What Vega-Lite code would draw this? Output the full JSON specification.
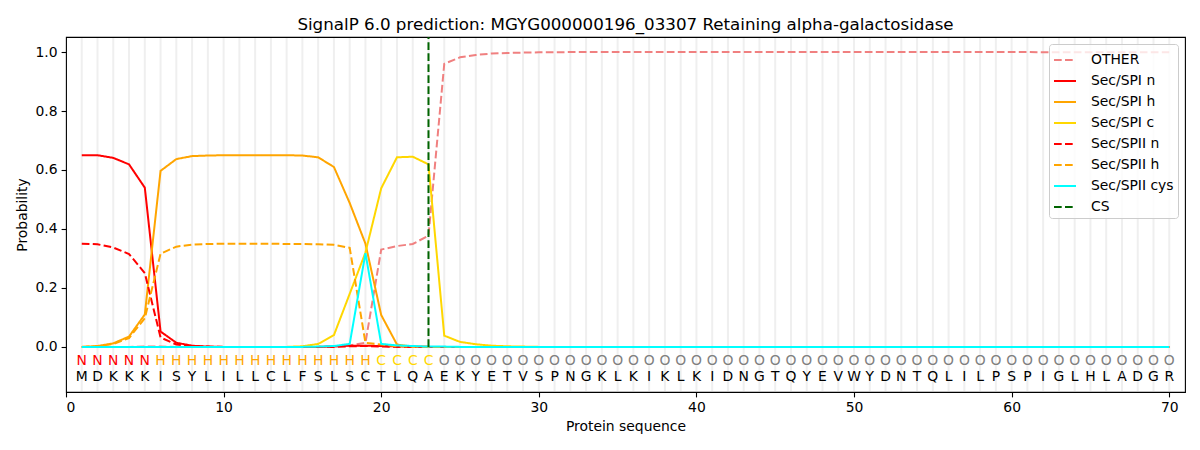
{
  "$schema": "https://vega.github.io/schema/vega-lite/v6.json",
  "description": "SignalP 6.0 per-residue probabilities",
  "autosize": {"type": "none"},
  "width": 1119,
  "height": 355,
  "padding": {"left": 66, "top": 37, "right": 15, "bottom": 58},
  "title": {
    "text": "SignalP 6.0 prediction: MGYG000000196_03307 Retaining alpha-galactosidase",
    "fontSize": 16.7,
    "fontWeight": "normal",
    "color": "black",
    "offset": 3
  },
  "config": {
    "font": "DejaVu Sans",
    "view": {"stroke": "black", "strokeWidth": 1.1},
    "axis": {
      "domain": false,
      "grid": false,
      "tickColor": "black",
      "tickSize": 4.9,
      "tickWidth": 1.1,
      "labelFontSize": 13.9,
      "labelColor": "black",
      "labelPadding": 4,
      "titleFontSize": 13.9,
      "titleFontWeight": "normal",
      "titleColor": "black"
    },
    "legend": {
      "orient": "top-right",
      "offset": 7,
      "fillColor": "rgba(255,255,255,0.8)",
      "strokeColor": "#cccccc",
      "cornerRadius": 3,
      "padding": 4,
      "labelFontSize": 13.9,
      "labelColor": "black",
      "labelOffset": 14,
      "symbolType": "stroke",
      "symbolStrokeWidth": 2,
      "symbolSize": 484,
      "rowPadding": 2
    }
  },
  "datasets": {
    "seq": [
      {"pos":1,"aa":"M","lab":"N","OTHER":0,"Sec/SPI n":0.65,"Sec/SPI h":0,"Sec/SPI c":0,"Sec/SPII n":0.35,"Sec/SPII h":0,"Sec/SPII cys":0},
      {"pos":2,"aa":"D","lab":"N","OTHER":0,"Sec/SPI n":0.65,"Sec/SPI h":0.003,"Sec/SPI c":0,"Sec/SPII n":0.348,"Sec/SPII h":0.002,"Sec/SPII cys":0},
      {"pos":3,"aa":"K","lab":"N","OTHER":0,"Sec/SPI n":0.641,"Sec/SPI h":0.012,"Sec/SPI c":0,"Sec/SPII n":0.337,"Sec/SPII h":0.01,"Sec/SPII cys":0},
      {"pos":4,"aa":"K","lab":"N","OTHER":0,"Sec/SPI n":0.619,"Sec/SPI h":0.035,"Sec/SPI c":0,"Sec/SPII n":0.315,"Sec/SPII h":0.03,"Sec/SPII cys":0},
      {"pos":5,"aa":"K","lab":"N","OTHER":0.001,"Sec/SPI n":0.54,"Sec/SPI h":0.11,"Sec/SPI c":0,"Sec/SPII n":0.25,"Sec/SPII h":0.097,"Sec/SPII cys":0},
      {"pos":6,"aa":"I","lab":"H","OTHER":0.001,"Sec/SPI n":0.052,"Sec/SPI h":0.597,"Sec/SPI c":0,"Sec/SPII n":0.032,"Sec/SPII h":0.316,"Sec/SPII cys":0},
      {"pos":7,"aa":"S","lab":"H","OTHER":0,"Sec/SPI n":0.014,"Sec/SPI h":0.637,"Sec/SPI c":0,"Sec/SPII n":0.008,"Sec/SPII h":0.34,"Sec/SPII cys":0},
      {"pos":8,"aa":"Y","lab":"H","OTHER":0,"Sec/SPI n":0.004,"Sec/SPI h":0.647,"Sec/SPI c":0,"Sec/SPII n":0.002,"Sec/SPII h":0.347,"Sec/SPII cys":0},
      {"pos":9,"aa":"L","lab":"H","OTHER":0,"Sec/SPI n":0.001,"Sec/SPI h":0.649,"Sec/SPI c":0,"Sec/SPII n":0.001,"Sec/SPII h":0.349,"Sec/SPII cys":0},
      {"pos":10,"aa":"I","lab":"H","OTHER":0,"Sec/SPI n":0,"Sec/SPI h":0.65,"Sec/SPI c":0,"Sec/SPII n":0,"Sec/SPII h":0.35,"Sec/SPII cys":0},
      {"pos":11,"aa":"L","lab":"H","OTHER":0,"Sec/SPI n":0,"Sec/SPI h":0.65,"Sec/SPI c":0,"Sec/SPII n":0,"Sec/SPII h":0.35,"Sec/SPII cys":0},
      {"pos":12,"aa":"L","lab":"H","OTHER":0,"Sec/SPI n":0,"Sec/SPI h":0.65,"Sec/SPI c":0,"Sec/SPII n":0,"Sec/SPII h":0.35,"Sec/SPII cys":0},
      {"pos":13,"aa":"C","lab":"H","OTHER":0,"Sec/SPI n":0,"Sec/SPI h":0.65,"Sec/SPI c":0,"Sec/SPII n":0,"Sec/SPII h":0.35,"Sec/SPII cys":0},
      {"pos":14,"aa":"L","lab":"H","OTHER":0,"Sec/SPI n":0,"Sec/SPI h":0.65,"Sec/SPI c":0,"Sec/SPII n":0,"Sec/SPII h":0.349,"Sec/SPII cys":0},
      {"pos":15,"aa":"F","lab":"H","OTHER":0,"Sec/SPI n":0,"Sec/SPI h":0.649,"Sec/SPI c":0.002,"Sec/SPII n":0,"Sec/SPII h":0.349,"Sec/SPII cys":0},
      {"pos":16,"aa":"S","lab":"H","OTHER":0,"Sec/SPI n":0,"Sec/SPI h":0.643,"Sec/SPI c":0.01,"Sec/SPII n":0,"Sec/SPII h":0.348,"Sec/SPII cys":0.001},
      {"pos":17,"aa":"L","lab":"H","OTHER":0.001,"Sec/SPI n":0.002,"Sec/SPI h":0.61,"Sec/SPI c":0.04,"Sec/SPII n":0,"Sec/SPII h":0.346,"Sec/SPII cys":0.003},
      {"pos":18,"aa":"S","lab":"H","OTHER":0.005,"Sec/SPI n":0.004,"Sec/SPI h":0.488,"Sec/SPI c":0.18,"Sec/SPII n":0.002,"Sec/SPII h":0.336,"Sec/SPII cys":0.01},
      {"pos":19,"aa":"C","lab":"H","OTHER":0.014,"Sec/SPI n":0.004,"Sec/SPI h":0.35,"Sec/SPI c":0.32,"Sec/SPII n":0.003,"Sec/SPII h":0.014,"Sec/SPII cys":0.318},
      {"pos":20,"aa":"T","lab":"C","OTHER":0.33,"Sec/SPI n":0.003,"Sec/SPI h":0.108,"Sec/SPI c":0.538,"Sec/SPII n":0.001,"Sec/SPII h":0.008,"Sec/SPII cys":0.01},
      {"pos":21,"aa":"L","lab":"C","OTHER":0.342,"Sec/SPI n":0.002,"Sec/SPI h":0.008,"Sec/SPI c":0.643,"Sec/SPII n":0,"Sec/SPII h":0.002,"Sec/SPII cys":0.005},
      {"pos":22,"aa":"Q","lab":"C","OTHER":0.349,"Sec/SPI n":0.001,"Sec/SPI h":0.001,"Sec/SPI c":0.645,"Sec/SPII n":0,"Sec/SPII h":0.001,"Sec/SPII cys":0.003},
      {"pos":23,"aa":"A","lab":"C","OTHER":0.377,"Sec/SPI n":0,"Sec/SPI h":0,"Sec/SPI c":0.619,"Sec/SPII n":0,"Sec/SPII h":0,"Sec/SPII cys":0.001},
      {"pos":24,"aa":"E","lab":"O","OTHER":0.96,"Sec/SPI n":0,"Sec/SPI h":0,"Sec/SPI c":0.038,"Sec/SPII n":0,"Sec/SPII h":0,"Sec/SPII cys":0.001},
      {"pos":25,"aa":"K","lab":"O","OTHER":0.982,"Sec/SPI n":0,"Sec/SPI h":0,"Sec/SPI c":0.017,"Sec/SPII n":0,"Sec/SPII h":0,"Sec/SPII cys":0},
      {"pos":26,"aa":"Y","lab":"O","OTHER":0.99,"Sec/SPI n":0,"Sec/SPI h":0,"Sec/SPI c":0.009,"Sec/SPII n":0,"Sec/SPII h":0,"Sec/SPII cys":0},
      {"pos":27,"aa":"E","lab":"O","OTHER":0.995,"Sec/SPI n":0,"Sec/SPI h":0,"Sec/SPI c":0.004,"Sec/SPII n":0,"Sec/SPII h":0,"Sec/SPII cys":0},
      {"pos":28,"aa":"T","lab":"O","OTHER":0.997,"Sec/SPI n":0,"Sec/SPI h":0,"Sec/SPI c":0.002,"Sec/SPII n":0,"Sec/SPII h":0,"Sec/SPII cys":0},
      {"pos":29,"aa":"V","lab":"O","OTHER":0.998,"Sec/SPI n":0,"Sec/SPI h":0,"Sec/SPI c":0.001,"Sec/SPII n":0,"Sec/SPII h":0,"Sec/SPII cys":0},
      {"pos":30,"aa":"S","lab":"O","OTHER":0.999,"Sec/SPI n":0,"Sec/SPI h":0,"Sec/SPI c":0,"Sec/SPII n":0,"Sec/SPII h":0,"Sec/SPII cys":0},
      {"pos":31,"aa":"P","lab":"O","OTHER":0.999,"Sec/SPI n":0,"Sec/SPI h":0,"Sec/SPI c":0,"Sec/SPII n":0,"Sec/SPII h":0,"Sec/SPII cys":0},
      {"pos":32,"aa":"N","lab":"O","OTHER":1,"Sec/SPI n":0,"Sec/SPI h":0,"Sec/SPI c":0,"Sec/SPII n":0,"Sec/SPII h":0,"Sec/SPII cys":0},
      {"pos":33,"aa":"G","lab":"O","OTHER":1,"Sec/SPI n":0,"Sec/SPI h":0,"Sec/SPI c":0,"Sec/SPII n":0,"Sec/SPII h":0,"Sec/SPII cys":0},
      {"pos":34,"aa":"K","lab":"O","OTHER":1,"Sec/SPI n":0,"Sec/SPI h":0,"Sec/SPI c":0,"Sec/SPII n":0,"Sec/SPII h":0,"Sec/SPII cys":0},
      {"pos":35,"aa":"L","lab":"O","OTHER":1,"Sec/SPI n":0,"Sec/SPI h":0,"Sec/SPI c":0,"Sec/SPII n":0,"Sec/SPII h":0,"Sec/SPII cys":0},
      {"pos":36,"aa":"K","lab":"O","OTHER":1,"Sec/SPI n":0,"Sec/SPI h":0,"Sec/SPI c":0,"Sec/SPII n":0,"Sec/SPII h":0,"Sec/SPII cys":0},
      {"pos":37,"aa":"I","lab":"O","OTHER":1,"Sec/SPI n":0,"Sec/SPI h":0,"Sec/SPI c":0,"Sec/SPII n":0,"Sec/SPII h":0,"Sec/SPII cys":0},
      {"pos":38,"aa":"K","lab":"O","OTHER":1,"Sec/SPI n":0,"Sec/SPI h":0,"Sec/SPI c":0,"Sec/SPII n":0,"Sec/SPII h":0,"Sec/SPII cys":0},
      {"pos":39,"aa":"L","lab":"O","OTHER":1,"Sec/SPI n":0,"Sec/SPI h":0,"Sec/SPI c":0,"Sec/SPII n":0,"Sec/SPII h":0,"Sec/SPII cys":0},
      {"pos":40,"aa":"K","lab":"O","OTHER":1,"Sec/SPI n":0,"Sec/SPI h":0,"Sec/SPI c":0,"Sec/SPII n":0,"Sec/SPII h":0,"Sec/SPII cys":0},
      {"pos":41,"aa":"I","lab":"O","OTHER":1,"Sec/SPI n":0,"Sec/SPI h":0,"Sec/SPI c":0,"Sec/SPII n":0,"Sec/SPII h":0,"Sec/SPII cys":0},
      {"pos":42,"aa":"D","lab":"O","OTHER":1,"Sec/SPI n":0,"Sec/SPI h":0,"Sec/SPI c":0,"Sec/SPII n":0,"Sec/SPII h":0,"Sec/SPII cys":0},
      {"pos":43,"aa":"N","lab":"O","OTHER":1,"Sec/SPI n":0,"Sec/SPI h":0,"Sec/SPI c":0,"Sec/SPII n":0,"Sec/SPII h":0,"Sec/SPII cys":0},
      {"pos":44,"aa":"G","lab":"O","OTHER":1,"Sec/SPI n":0,"Sec/SPI h":0,"Sec/SPI c":0,"Sec/SPII n":0,"Sec/SPII h":0,"Sec/SPII cys":0},
      {"pos":45,"aa":"T","lab":"O","OTHER":1,"Sec/SPI n":0,"Sec/SPI h":0,"Sec/SPI c":0,"Sec/SPII n":0,"Sec/SPII h":0,"Sec/SPII cys":0},
      {"pos":46,"aa":"Q","lab":"O","OTHER":1,"Sec/SPI n":0,"Sec/SPI h":0,"Sec/SPI c":0,"Sec/SPII n":0,"Sec/SPII h":0,"Sec/SPII cys":0},
      {"pos":47,"aa":"Y","lab":"O","OTHER":1,"Sec/SPI n":0,"Sec/SPI h":0,"Sec/SPI c":0,"Sec/SPII n":0,"Sec/SPII h":0,"Sec/SPII cys":0},
      {"pos":48,"aa":"E","lab":"O","OTHER":1,"Sec/SPI n":0,"Sec/SPI h":0,"Sec/SPI c":0,"Sec/SPII n":0,"Sec/SPII h":0,"Sec/SPII cys":0},
      {"pos":49,"aa":"V","lab":"O","OTHER":1,"Sec/SPI n":0,"Sec/SPI h":0,"Sec/SPI c":0,"Sec/SPII n":0,"Sec/SPII h":0,"Sec/SPII cys":0},
      {"pos":50,"aa":"W","lab":"O","OTHER":1,"Sec/SPI n":0,"Sec/SPI h":0,"Sec/SPI c":0,"Sec/SPII n":0,"Sec/SPII h":0,"Sec/SPII cys":0},
      {"pos":51,"aa":"Y","lab":"O","OTHER":1,"Sec/SPI n":0,"Sec/SPI h":0,"Sec/SPI c":0,"Sec/SPII n":0,"Sec/SPII h":0,"Sec/SPII cys":0},
      {"pos":52,"aa":"D","lab":"O","OTHER":1,"Sec/SPI n":0,"Sec/SPI h":0,"Sec/SPI c":0,"Sec/SPII n":0,"Sec/SPII h":0,"Sec/SPII cys":0},
      {"pos":53,"aa":"N","lab":"O","OTHER":1,"Sec/SPI n":0,"Sec/SPI h":0,"Sec/SPI c":0,"Sec/SPII n":0,"Sec/SPII h":0,"Sec/SPII cys":0},
      {"pos":54,"aa":"T","lab":"O","OTHER":1,"Sec/SPI n":0,"Sec/SPI h":0,"Sec/SPI c":0,"Sec/SPII n":0,"Sec/SPII h":0,"Sec/SPII cys":0},
      {"pos":55,"aa":"Q","lab":"O","OTHER":1,"Sec/SPI n":0,"Sec/SPI h":0,"Sec/SPI c":0,"Sec/SPII n":0,"Sec/SPII h":0,"Sec/SPII cys":0},
      {"pos":56,"aa":"L","lab":"O","OTHER":1,"Sec/SPI n":0,"Sec/SPI h":0,"Sec/SPI c":0,"Sec/SPII n":0,"Sec/SPII h":0,"Sec/SPII cys":0},
      {"pos":57,"aa":"I","lab":"O","OTHER":1,"Sec/SPI n":0,"Sec/SPI h":0,"Sec/SPI c":0,"Sec/SPII n":0,"Sec/SPII h":0,"Sec/SPII cys":0},
      {"pos":58,"aa":"L","lab":"O","OTHER":1,"Sec/SPI n":0,"Sec/SPI h":0,"Sec/SPI c":0,"Sec/SPII n":0,"Sec/SPII h":0,"Sec/SPII cys":0},
      {"pos":59,"aa":"P","lab":"O","OTHER":1,"Sec/SPI n":0,"Sec/SPI h":0,"Sec/SPI c":0,"Sec/SPII n":0,"Sec/SPII h":0,"Sec/SPII cys":0},
      {"pos":60,"aa":"S","lab":"O","OTHER":1,"Sec/SPI n":0,"Sec/SPI h":0,"Sec/SPI c":0,"Sec/SPII n":0,"Sec/SPII h":0,"Sec/SPII cys":0},
      {"pos":61,"aa":"P","lab":"O","OTHER":1,"Sec/SPI n":0,"Sec/SPI h":0,"Sec/SPI c":0,"Sec/SPII n":0,"Sec/SPII h":0,"Sec/SPII cys":0},
      {"pos":62,"aa":"I","lab":"O","OTHER":0.999,"Sec/SPI n":0,"Sec/SPI h":0,"Sec/SPI c":0,"Sec/SPII n":0,"Sec/SPII h":0,"Sec/SPII cys":0},
      {"pos":63,"aa":"G","lab":"O","OTHER":0.999,"Sec/SPI n":0,"Sec/SPI h":0,"Sec/SPI c":0,"Sec/SPII n":0,"Sec/SPII h":0,"Sec/SPII cys":0},
      {"pos":64,"aa":"L","lab":"O","OTHER":0.999,"Sec/SPI n":0,"Sec/SPI h":0,"Sec/SPI c":0,"Sec/SPII n":0,"Sec/SPII h":0,"Sec/SPII cys":0},
      {"pos":65,"aa":"H","lab":"O","OTHER":0.999,"Sec/SPI n":0,"Sec/SPI h":0,"Sec/SPI c":0,"Sec/SPII n":0,"Sec/SPII h":0,"Sec/SPII cys":0},
      {"pos":66,"aa":"L","lab":"O","OTHER":0.999,"Sec/SPI n":0,"Sec/SPI h":0,"Sec/SPI c":0,"Sec/SPII n":0,"Sec/SPII h":0,"Sec/SPII cys":0},
      {"pos":67,"aa":"A","lab":"O","OTHER":0.999,"Sec/SPI n":0,"Sec/SPI h":0,"Sec/SPI c":0,"Sec/SPII n":0,"Sec/SPII h":0,"Sec/SPII cys":0},
      {"pos":68,"aa":"D","lab":"O","OTHER":0.999,"Sec/SPI n":0,"Sec/SPI h":0,"Sec/SPI c":0,"Sec/SPII n":0,"Sec/SPII h":0,"Sec/SPII cys":0},
      {"pos":69,"aa":"G","lab":"O","OTHER":0.999,"Sec/SPI n":0,"Sec/SPI h":0,"Sec/SPI c":0,"Sec/SPII n":0,"Sec/SPII h":0,"Sec/SPII cys":0},
      {"pos":70,"aa":"R","lab":"O","OTHER":0.999,"Sec/SPI n":0,"Sec/SPI h":0,"Sec/SPI c":0,"Sec/SPII n":0,"Sec/SPII h":0,"Sec/SPII cys":0}
    ],
    "cs": [
      {"pos": 23, "series": "CS", "from": 0, "to": 1.05}
    ]
  },
  "data": {"name": "seq"},
  "encoding": {
    "x": {
      "field": "pos",
      "type": "quantitative",
      "title": "Protein sequence",
      "scale": {"domain": [0, 71], "nice": false, "zero": false},
      "axis": {"values": [0, 10, 20, 30, 40, 50, 60, 70], "titlePadding": 5}
    }
  },
  "layer": [
    {
      "mark": {"type": "rule", "color": "#efefef", "strokeWidth": 2},
      "encoding": {
        "y": {"datum": -0.15, "type": "quantitative"},
        "y2": {"datum": 1.048}
      }
    },
    {
      "transform": [
        {"fold": ["OTHER", "Sec/SPI n", "Sec/SPI h", "Sec/SPI c", "Sec/SPII n", "Sec/SPII h", "Sec/SPII cys"], "as": ["series", "prob"]}
      ],
      "mark": {"type": "line", "strokeWidth": 2},
      "encoding": {
        "y": {
          "field": "prob",
          "type": "quantitative",
          "title": "Probability",
          "scale": {"domain": [-0.153, 1.051], "nice": false, "zero": false},
          "axis": {"values": [0, 0.2, 0.4, 0.6, 0.8, 1.0], "format": ".1f", "titlePadding": 6}
        },
        "color": {
          "field": "series",
          "type": "nominal",
          "title": null,
          "scale": {
            "domain": ["OTHER", "Sec/SPI n", "Sec/SPI h", "Sec/SPI c", "Sec/SPII n", "Sec/SPII h", "Sec/SPII cys", "CS"],
            "range": ["#f08080", "#ff0000", "#ffa500", "#ffd700", "#ff0000", "#ffa500", "#00ffff", "#006400"]
          }
        },
        "strokeDash": {
          "field": "series",
          "type": "nominal",
          "title": null,
          "scale": {
            "domain": ["OTHER", "Sec/SPI n", "Sec/SPI h", "Sec/SPI c", "Sec/SPII n", "Sec/SPII h", "Sec/SPII cys", "CS"],
            "range": [[7.7, 3.3], [1, 0], [1, 0], [1, 0], [7.7, 3.3], [7.7, 3.3], [1, 0], [7.7, 3.3]]
          }
        }
      }
    },
    {
      "data": {"name": "cs"},
      "mark": {"type": "rule", "strokeWidth": 2},
      "encoding": {
        "y": {"field": "from", "type": "quantitative"},
        "y2": {"field": "to"},
        "color": {"field": "series", "type": "nominal"},
        "strokeDash": {"field": "series", "type": "nominal"}
      }
    },
    {
      "mark": {"type": "text", "fontSize": 13.9, "baseline": "middle", "align": "center"},
      "encoding": {
        "y": {"datum": -0.048, "type": "quantitative"},
        "text": {"field": "lab"},
        "color": {
          "condition": [
            {"test": "datum.lab === 'N'", "value": "#ff0000"},
            {"test": "datum.lab === 'H'", "value": "#ffa500"},
            {"test": "datum.lab === 'C'", "value": "#ffd700"}
          ],
          "value": "#808080"
        }
      }
    },
    {
      "mark": {"type": "text", "fontSize": 13.9, "baseline": "middle", "align": "center", "color": "black"},
      "encoding": {
        "y": {"datum": -0.102, "type": "quantitative"},
        "text": {"field": "aa"}
      }
    }
  ]
}
